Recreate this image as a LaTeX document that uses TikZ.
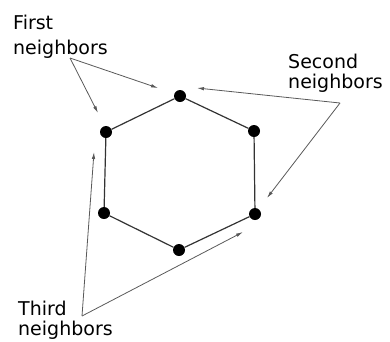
\documentclass[tikz,border=0pt]{standalone}
\usepackage{fontspec}
\setmainfont{DejaVu Sans}
\usetikzlibrary{arrows.meta}

\begin{document}
\begin{tikzpicture}[x=1pt, y=-1pt, >={Latex[length=7pt,width=3.5pt]},
  site/.style={circle, fill=black, inner sep=0pt, minimum size=12pt},
  bond/.style={draw=black!80, line width=1.2pt},
  ptr/.style={->, draw=black!65, line width=0.8pt},
  lab/.style={font=\fontsize{19}{20}\selectfont, align=left, inner sep=0pt, anchor=north west}]
  \useasboundingbox (0,0) rectangle (390,341);
  % hexagon
  \node[site] (t)  at (180,96)  {};
  \node[site] (ur) at (254,131) {};
  \node[site] (lr) at (255,214) {};
  \node[site] (b)  at (179,250) {};
  \node[site] (ll) at (104,213) {};
  \node[site] (ul) at (106,132) {};
  \draw[bond] (t) -- (ur) -- (lr) -- (b) -- (ll) -- (ul) -- (t);
  % labels
  \node[lab] (first)  at (13,15)  {First\\[5pt]neighbors};
  \node[lab] (second) at (288,54) {Second\\neighbors};
  \node[lab] (third)  at (18,301) {Third\\neighbors};
  % pointers
  \coordinate (f0) at (70,58);
  \coordinate (f1) at (158,88);
  \coordinate (f2) at (98,113);
  \coordinate (s0) at (340,103);
  \coordinate (s1) at (197,88);
  \coordinate (s2) at (267,198);
  \coordinate (h0) at (82,316);
  \coordinate (h1) at (94,152);
  \coordinate (h2) at (243,232);
  \draw[ptr] (f0) -- (f1);
  \draw[ptr] (f0) -- (f2);
  \draw[ptr] (s0) -- (s1);
  \draw[ptr] (s0) -- (s2);
  \draw[ptr] (h0) -- (h1);
  \draw[ptr] (h0) -- (h2);
\end{tikzpicture}
\end{document}
